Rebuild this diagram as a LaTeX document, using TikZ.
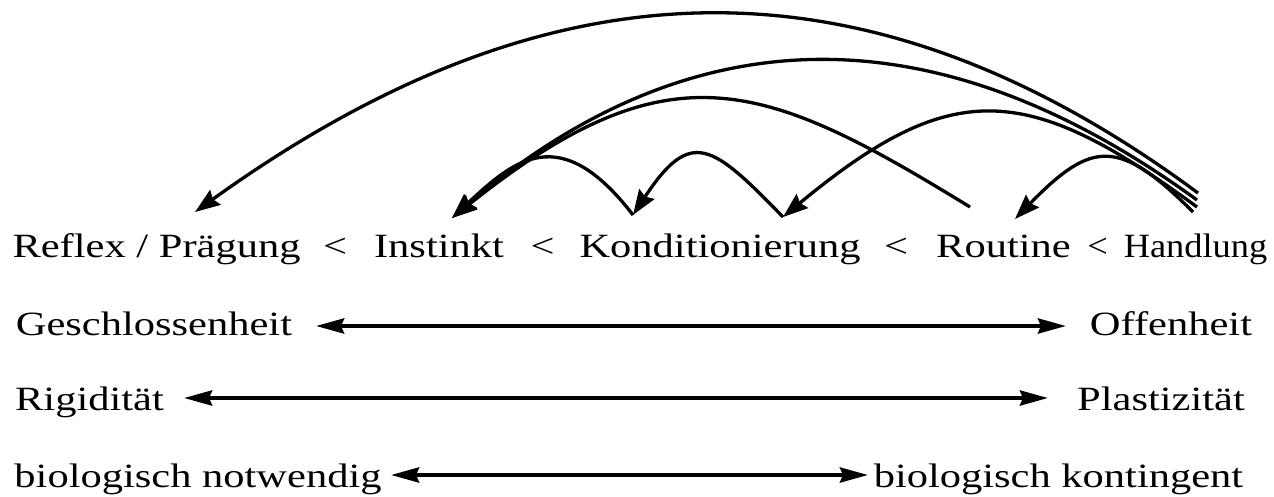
\documentclass[tikz,border=0pt]{standalone}
\usepackage{fontspec}
\setmainfont{Liberation Serif}[FakeStretch=1.25]
\newfontfamily\handfont{Liberation Serif}[FakeStretch=1.07]
\usetikzlibrary{arrows.meta}
\begin{document}
\begin{tikzpicture}[x=1pt,y=-1pt,
  lbl/.style={font=\fontsize{34}{40}\selectfont, inner sep=0pt, anchor=base},
  hlbl/.style={font=\handfont\fontsize{34}{40}\selectfont, inner sep=0pt, anchor=base},
  curve/.style={line width=3.3pt, -{Stealth[length=25pt,width=18pt,inset=3pt]}},
  dbl/.style={line width=4pt, {Stealth[length=28pt,width=15pt,inset=3pt]}-{Stealth[length=28pt,width=15pt,inset=3pt]}}
]
\fill[white] (0,0) rectangle (1274,496);
\useasboundingbox (0,0) rectangle (1274,496);

% row 1
\node[lbl] (reflex) at (156.5,257.5) {Reflex / Prägung};
\node[lbl] (lt1) at (335,257.5) {<};
\node[lbl] (instinkt) at (439,257.5) {Instinkt};
\node[lbl] (lt2) at (542.5,257.5) {<};
\node[lbl] (kond) at (720,257.5) {Konditionierung};
\node[lbl] (lt3) at (896,257.5) {<};
\node[lbl] (routine) at (1003.5,257.5) {Routine};
\node[hlbl] (lt4) at (1097.5,257.5) {<};
\node[hlbl] (handlung) at (1195.5,257.5) {Handlung};

% rows 2-4
\node[lbl] (geschl) at (154,335) {Geschlossenheit};
\node[lbl] (offen) at (1171,335) {Offenheit};
\node[lbl] (rigid) at (89.5,410) {Rigidität};
\node[lbl] (plast) at (1161,410) {Plastizität};
\node[lbl] (notw) at (198,487) {biologisch notwendig};
\node[lbl] (kont) at (1058.5,487) {biologisch kontingent};

% arrow end points
\coordinate (hA) at (1198,193);
\coordinate (hB) at (1197,200);
\coordinate (hC) at (1197,207);
\coordinate (hD) at (1193,212);
\coordinate (reT) at (195,212);
\coordinate (inT) at (452,218);
\coordinate (koL) at (633,215);
\coordinate (koR) at (783,217);
\coordinate (roS) at (970,207);
\coordinate (roT) at (1015,219);

\coordinate (g2l) at (316,326);
\coordinate (g2r) at (1066,326);
\coordinate (g3l) at (184,398);
\coordinate (g3r) at (1048,398);
\coordinate (g4l) at (391,475);
\coordinate (g4r) at (868,475);

% curved arrows
\draw[curve] (hA) .. controls (848,-66) and (532,-30) .. (reT);
\draw[curve] (hB) .. controls (922,0) and (680,24) .. (inT);
\draw[curve] (roS) .. controls (763,80) and (670,44) .. (inT);
\draw[curve] (koL) .. controls (560,120) and (514,160) .. (inT);
\draw[curve] (koR) .. controls (712,144) and (691,127) .. (koL);
\draw[curve] (hC) .. controls (1027,82) and (952,77) .. (koR);
\draw[curve] (hD) .. controls (1119,138) and (1092,140) .. (roT);

% straight double arrows
\draw[dbl] (g2l) -- (g2r);
\draw[dbl] (g3l) -- (g3r);
\draw[dbl] (g4l) -- (g4r);
\end{tikzpicture}
\end{document}
